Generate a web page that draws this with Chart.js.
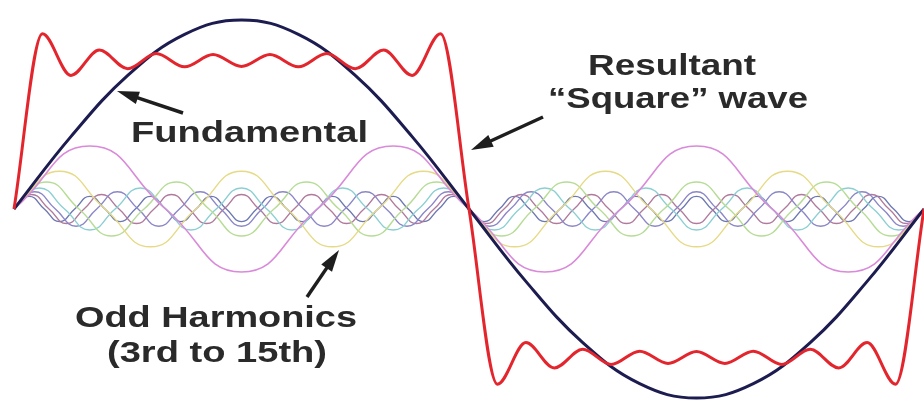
<!DOCTYPE html>
<html>
<head>
<meta charset="utf-8">
<script src="https://cdn.jsdelivr.net/npm/chart.js@4.4.0/dist/chart.umd.min.js"></script>
<style>
  html, body { margin: 0; padding: 0; background: #ffffff; }
  #wrap { width: 924px; height: 401px; position: relative; background: #ffffff; }
</style>
</head>
<body>
<div id="wrap"><canvas id="c" width="924" height="401"></canvas></div>
<script>
// ---- data (x spans one period 0..360 degrees) ----
// Fundamental, sampled every 22.5 degrees
const fundamental = [0, .383, .707, .924, 1, .924, .707, .383, 0, -.383, -.707, -.924, -1, -.924, -.707, -.383, 0];
// Resultant "square" wave, sampled every 11.25 degrees (ripple peaks / troughs)
const resultant = [0, .927, .707, .841, .742, .823, .752, .817, .754, .817, .752, .823, .742, .841, .707, .927,
                   0, -.927, -.707, -.841, -.742, -.823, -.752, -.817, -.754, -.817, -.752, -.823, -.742, -.841, -.707, -.927, 0];
// Odd harmonics, sampled at their own peaks and zero crossings
const harmonic3 = [0,.333,0,-.333, 0,.333,0,-.333, 0,.333,0,-.333, 0];
const harmonic5 = [0,.2,0,-.2, 0,.2,0,-.2, 0,.2,0,-.2, 0,.2,0,-.2, 0,.2,0,-.2, 0];
const harmonic7 = [0,.143,0,-.143, 0,.143,0,-.143, 0,.143,0,-.143, 0,.143,0,-.143, 0,.143,0,-.143, 0,.143,0,-.143, 0,.143,0,-.143, 0];
const harmonic9 = [0,.111,0,-.111, 0,.111,0,-.111, 0,.111,0,-.111, 0,.111,0,-.111, 0,.111,0,-.111, 0,.111,0,-.111, 0,.111,0,-.111, 0,.111,0,-.111, 0,.111,0,-.111, 0];
const harmonic11 = [0,.091,0,-.091, 0,.091,0,-.091, 0,.091,0,-.091, 0,.091,0,-.091, 0,.091,0,-.091, 0,.091,0,-.091, 0,.091,0,-.091, 0,.091,0,-.091, 0,.091,0,-.091, 0,.091,0,-.091, 0,.091,0,-.091, 0];
const harmonic13 = [0,.077,0,-.077, 0,.077,0,-.077, 0,.077,0,-.077, 0,.077,0,-.077, 0,.077,0,-.077, 0,.077,0,-.077, 0,.077,0,-.077, 0,.077,0,-.077, 0,.077,0,-.077, 0,.077,0,-.077, 0,.077,0,-.077, 0,.077,0,-.077, 0,.077,0,-.077, 0];
const harmonic15 = [0,.067,0,-.067, 0,.067,0,-.067, 0,.067,0,-.067, 0,.067,0,-.067, 0,.067,0,-.067, 0,.067,0,-.067, 0,.067,0,-.067, 0,.067,0,-.067, 0,.067,0,-.067, 0,.067,0,-.067, 0,.067,0,-.067, 0,.067,0,-.067, 0,.067,0,-.067, 0,.067,0,-.067, 0,.067,0,-.067, 0];
const seriesNames = ['Resultant "Square" wave', 'Fundamental', '3rd', '5th', '7th', '9th', '11th', '13th', '15th'];
const periodDeg = 360;

// ---- styles ----
const harmonicColors = ['#d98ad9', '#e6da86', '#b6dc96', '#8ccfd2', '#8a86c8', '#b07a9c', '#6d78b0'];

function toPoints(values) {
  const step = periodDeg / (values.length - 1);
  return values.map((v, i) => ({ x: i * step, y: v }));
}

const harmonics = [harmonic3, harmonic5, harmonic7, harmonic9, harmonic11, harmonic13, harmonic15];

const datasets = [
  { label: seriesNames[0], data: toPoints(resultant), borderColor: '#e3262d', borderWidth: 3,
    cubicInterpolationMode: 'monotone', pointRadius: 0, clip: false },
  { label: seriesNames[1], data: toPoints(fundamental), borderColor: '#1c1c50', borderWidth: 3, tension: 0.4, pointRadius: 0, clip: false }
];
harmonics.forEach((h, i) => {
  datasets.push({ label: seriesNames[i + 2], data: toPoints(h), borderColor: harmonicColors[i],
    borderWidth: i === 0 ? 1.6 : 1.4, tension: 0.5, pointRadius: 0, clip: false });
});

// ---- annotations (canvas text + arrows) ----
const notes = [
  { text: 'Fundamental', x: 131, y: 142, w: 237 },
  { text: 'Resultant', x: 588, y: 75, w: 168 },
  { text: '\u201CSquare\u201D wave', x: 548, y: 108, w: 260 },
  { text: 'Odd Harmonics', x: 75, y: 327, w: 282 },
  { text: '(3rd to 15th)', x: 107, y: 362, w: 220 }
];
const arrows = [
  { from: [183, 113], to: [117, 91] },
  { from: [543, 117], to: [471, 150] },
  { from: [307, 297], to: [339, 250] }
];

const annotatePlugin = {
  id: 'annotate',
  afterDatasetsDraw(chart) {
    const ctx = chart.ctx;
    ctx.save();
    ctx.fillStyle = '#2a2a2a';
    ctx.strokeStyle = '#1e1e1e';
    ctx.font = 'bold 30px "Liberation Sans", Arial, sans-serif';
    ctx.textBaseline = 'alphabetic';
    notes.forEach(n => {
      const m = ctx.measureText(n.text).width;
      ctx.save();
      ctx.translate(n.x, n.y);
      ctx.scale(n.w / m, 1);
      ctx.fillText(n.text, 0, 0);
      ctx.restore();
    });
    arrows.forEach(a => {
      const [x0, y0] = a.from, [x1, y1] = a.to;
      const ang = Math.atan2(y1 - y0, x1 - x0);
      const L = 22, W = 6.5;
      const bx = x1 - L * Math.cos(ang), by = y1 - L * Math.sin(ang);
      ctx.lineWidth = 3.5;
      ctx.beginPath();
      ctx.moveTo(x0, y0);
      ctx.lineTo(bx + 4 * Math.cos(ang), by + 4 * Math.sin(ang));
      ctx.stroke();
      ctx.fillStyle = '#1e1e1e';
      ctx.beginPath();
      ctx.moveTo(x1, y1);
      ctx.lineTo(bx - W * Math.sin(ang), by + W * Math.cos(ang));
      ctx.lineTo(bx + W * Math.sin(ang), by - W * Math.cos(ang));
      ctx.closePath();
      ctx.fill();
    });
    ctx.restore();
  }
};

new Chart(document.getElementById('c'), {
  type: 'line',
  data: { datasets },
  options: {
    responsive: false,
    devicePixelRatio: 1,
    animation: false,
    layout: { padding: { left: 14, right: 0, top: 20, bottom: 3 } },
    plugins: { legend: { display: false }, tooltip: { enabled: false }, title: { display: false } },
    scales: {
      x: { type: 'linear', min: 0, max: periodDeg, display: false },
      y: { type: 'linear', min: -1, max: 1, display: false }
    }
  },
  plugins: [annotatePlugin]
});
</script>
</body>
</html>
